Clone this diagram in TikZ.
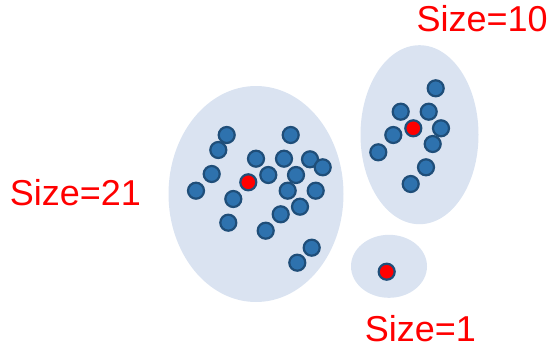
\documentclass[tikz,border=0pt]{standalone}
\usepackage{fontspec}
\setmainfont{Liberation Sans}
\usetikzlibrary{shapes.geometric}
\definecolor{clusterfill}{HTML}{DAE3F1}
\definecolor{dotfill}{HTML}{2E72AE}
\definecolor{dotedge}{HTML}{1F4E79}
\definecolor{labelred}{HTML}{FF0000}
\begin{document}
\begin{tikzpicture}[x=1pt,y=-1pt,
  cluster/.style={ellipse,fill=clusterfill,draw=none,inner sep=0pt},
  dot/.style={circle,fill=dotfill,draw=dotedge,line width=2.2pt,minimum size=16pt,inner sep=0pt},
  center/.style={dot,fill=labelred},
  sizelabel/.style={text=labelred,inner sep=0pt,text depth=0pt,anchor=base west,font=\fontsize{36}{40}\selectfont}]
\useasboundingbox (0,0) rectangle (557,346);

% cluster outlines
\node[cluster,minimum width=175pt,minimum height=216pt] (cbig) at (256,194) {};
\node[cluster,minimum width=118pt,minimum height=179pt] (cmid) at (419.5,134.7) {};
\node[cluster,minimum width=76pt,minimum height=63pt] (csmall) at (389,266.3) {};

% large cluster members
\node[dot] (a1) at (226.7,135) {};
\node[dot] (a2) at (218.3,150) {};
\node[dot] (a3) at (290.7,135) {};
\node[dot] (a4) at (256,158.7) {};
\node[dot] (a5) at (284,158.7) {};
\node[dot] (a6) at (310,159.3) {};
\node[dot] (a7) at (322.7,167.3) {};
\node[dot] (a8) at (211.7,174) {};
\node[dot] (a9) at (268.3,175) {};
\node[dot] (a10) at (296,175) {};
\node[dot] (a11) at (196,190.7) {};
\node[dot] (a12) at (287.7,190.7) {};
\node[dot] (a13) at (315.7,190.7) {};
\node[dot] (a14) at (233.3,199) {};
\node[dot] (a15) at (300,206.7) {};
\node[dot] (a16) at (280.7,214.3) {};
\node[dot] (a17) at (228.3,222.7) {};
\node[dot] (a18) at (265.7,230.7) {};
\node[dot] (a19) at (311.7,247.7) {};
\node[dot] (a20) at (297.3,262.7) {};
\node[center] (ca) at (248.3,182.3) {};

% middle cluster members
\node[dot] (b1) at (435.7,88.3) {};
\node[dot] (b2) at (400.7,111.7) {};
\node[dot] (b3) at (428.7,111.7) {};
\node[dot] (b4) at (393.3,135) {};
\node[dot] (b5) at (441,128.3) {};
\node[dot] (b6) at (432.7,144) {};
\node[dot] (b7) at (378.3,152.3) {};
\node[dot] (b8) at (426,167.3) {};
\node[dot] (b9) at (410.7,184) {};
\node[center] (cb) at (413.3,128.3) {};

% single-member cluster
\node[center] (cc) at (386.7,271.7) {};

% size labels
\node[sizelabel] (l10) at (416.3,31.7) {Size=10};
\node[sizelabel] (l21) at (9.7,205) {Size=21};
\node[sizelabel] (l1) at (364.7,341.7) {Size=1};
\end{tikzpicture}
\end{document}
